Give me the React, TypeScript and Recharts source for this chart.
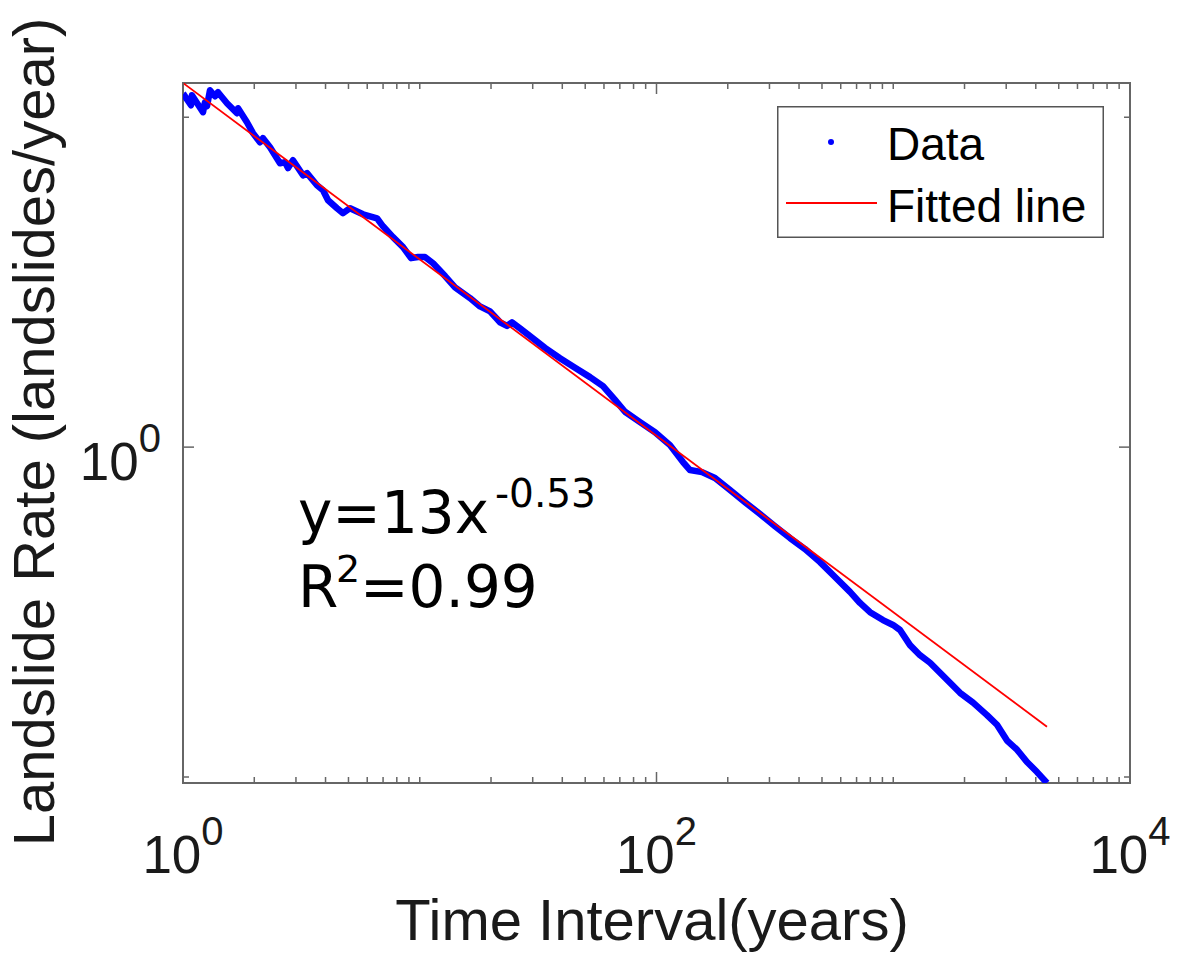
import React from 'react';
import { ComposedChart, Line, XAxis, YAxis, ReferenceArea, Legend } from 'recharts';

// values
const timeInterval = [
  1, 1.081, 1.091, 1.215, 1.238, 1.263, 1.3, 1.365, 1.405, 1.534, 1.691, 1.708, 1.863, 1.975, 2.114,
  2.177, 2.331, 2.569, 2.697, 2.777, 2.914, 3.213, 3.34, 3.681, 3.903, 4.098, 4.472, 4.741, 5.075,
  5.759, 6.598, 6.995, 7.709, 8.5, 9.19, 9.83, 10.52, 11.38, 12.79, 14.09, 16.3, 17.97, 19.81, 21.83,
  23.37, 24.52, 26.51, 29.22, 33.81, 39.12, 45.27, 52.38, 59.43, 66.8, 73.62, 85.2, 98.56, 114,
  129.4, 138.5, 155.7, 176.6, 204.4, 236.5, 273.6, 316.6, 366.4, 424, 490.6, 567.5, 656.7, 723.6,
  797.9, 905, 997.7, 1068, 1177, 1297, 1430, 1576, 1737, 1914, 2173, 2489, 2743, 3024, 3333, 3673,
  4049, 4461,
];
const landslideRate = [
  11.82, 10.87, 11.66, 10.36, 11.1, 10.8, 12.07, 11.58, 11.91, 11.03, 10.28, 10.65, 9.66, 8.95, 8.4,
  8.64, 8.11, 7.25, 7.31, 7.01, 7.41, 6.67, 6.77, 6.22, 6.01, 5.6, 5.3, 5.12, 5.3, 5.08, 4.94, 4.67,
  4.33, 4.04, 3.74, 3.77, 3.77, 3.61, 3.3, 3.05, 2.83, 2.67, 2.58, 2.39, 2.33, 2.39, 2.29, 2.17, 2.0,
  1.86, 1.74, 1.63, 1.53, 1.39, 1.28, 1.19, 1.11, 1.014, 0.901, 0.852, 0.84, 0.806, 0.741, 0.681,
  0.627, 0.576, 0.53, 0.491, 0.448, 0.404, 0.364, 0.337, 0.316, 0.299, 0.289, 0.279, 0.251, 0.234,
  0.222, 0.207, 0.193, 0.18, 0.168, 0.154, 0.144, 0.129, 0.121, 0.111, 0.1035, 0.0959,
];
const fitTime = [1, 4460];
const fitRate = [12.7, 0.142];

const xTicks = [
  1, 2, 3, 4, 5, 6, 7, 8, 9, 10, 20, 30, 40, 50, 60, 70, 80, 90, 100, 200, 300, 400, 500, 600, 700,
  800, 900, 1000, 2000, 3000, 4000, 5000, 6000, 7000, 8000, 9000, 10000,
];
const xLabelled = [1, 100, 10000];
const yTicks = [0.1, 1, 10];
const yLabelled = [1];

const X_DOMAIN = [1, 10000];
const Y_DOMAIN = [0.0959, 12.7];

const W = 1181;
const H = 964;
const PLOT_LEFT = 183;
const PLOT_RIGHT = 1130;
const PLOT_TOP = 83;
const PLOT_BOTTOM = 783;
const AXIS = '#666666';
const TEXT = '#1a1a1a';
const FONT = '"Liberation Sans", Arial, sans-serif';

const dataRows = timeInterval.map((x, i) => ({ x, y: landslideRate[i] }));
const fitRows = fitTime.map((x, i) => ({ x, y: fitRate[i] }));

const XTick = (props: any) => {
  const { x, payload } = props;
  const v = payload.value;
  const major = xLabelled.includes(v);
  const len = major ? 11 : 6;
  return (
    <g>
      <line x1={x} x2={x} y1={PLOT_BOTTOM} y2={PLOT_BOTTOM - len} stroke={AXIS} strokeWidth={1.5} />
      <line x1={x} x2={x} y1={PLOT_TOP} y2={PLOT_TOP + len} stroke={AXIS} strokeWidth={1.5} />
      {major && (
        <text x={x} y={873} textAnchor="middle" fontFamily={FONT} fontSize={53} fill={TEXT}>
          <tspan>10</tspan>
          <tspan dy={-28} fontSize={40}>{Math.round(Math.log10(v))}</tspan>
        </text>
      )}
    </g>
  );
};

const YTick = (props: any) => {
  const { y, payload } = props;
  const v = payload.value;
  const major = yLabelled.includes(v);
  const len = major ? 11 : 6;
  return (
    <g>
      <line x1={PLOT_LEFT} x2={PLOT_LEFT + len} y1={y} y2={y} stroke={AXIS} strokeWidth={1.5} />
      <line x1={PLOT_RIGHT - len} x2={PLOT_RIGHT} y1={y} y2={y} stroke={AXIS} strokeWidth={1.5} />
      {major && (
        <text x={161} y={y + 33} textAnchor="end" fontFamily={FONT} fontSize={53} fill={TEXT}>
          <tspan>10</tspan>
          <tspan dy={-28} fontSize={40}>{Math.round(Math.log10(v))}</tspan>
        </text>
      )}
    </g>
  );
};

const LegendBox = () => (
  <svg width={327} height={132} style={{ display: 'block' }}>
    <rect x={0.75} y={0.75} width={325.5} height={130.5} fill="#fff" stroke="#555" strokeWidth={1.5} />
    <circle cx={54} cy={36} r={3} fill="#0000ff" />
    <text x={110} y={54} fontFamily={FONT} fontSize={46} fill="#000">Data</text>
    <line x1={9} x2={100} y1={97} y2={97} stroke="#ff0000" strokeWidth={1.8} />
    <text x={110} y={116} fontFamily={FONT} fontSize={46} fill="#000">Fitted line</text>
  </svg>
);

export default function App() {
  return (
    <div style={{ position: 'absolute', left: 0, top: 0, width: W, height: H, background: '#fff' }}>
      <ComposedChart
        width={W}
        height={H}
        margin={{ top: PLOT_TOP, right: W - PLOT_RIGHT, left: PLOT_LEFT - 150, bottom: H - PLOT_BOTTOM - 100 }}
      >
        <XAxis
          dataKey="x"
          type="number"
          scale="log"
          domain={X_DOMAIN}
          ticks={xTicks}
          interval={0}
          allowDataOverflow
          height={100}
          axisLine={false}
          tickLine={false}
          tick={<XTick />}
          label={{
            content: () => (
              <text x={652} y={940} textAnchor="middle" fontFamily={FONT} fontSize={58} fill={TEXT}>
                Time Interval(years)
              </text>
            ),
          }}
        />
        <YAxis
          type="number"
          scale="log"
          domain={Y_DOMAIN}
          ticks={yTicks}
          interval={0}
          allowDataOverflow
          width={150}
          axisLine={false}
          tickLine={false}
          tick={<YTick />}
          label={{
            content: () => (
              <text
                transform="translate(54,432) rotate(-90)"
                textAnchor="middle"
                fontFamily={FONT}
                fontSize={58}
                fill={TEXT}
              >
                Landslide Rate (landslides/year)
              </text>
            ),
          }}
        />
        <Line
          data={dataRows}
          dataKey="y"
          name="Data"
          stroke="#0000ff"
          strokeWidth={6.5}
          strokeLinejoin="round"
          dot={false}
          isAnimationActive={false}
        />
        <Line
          data={fitRows}
          dataKey="y"
          name="Fitted line"
          stroke="#ff0000"
          strokeWidth={1.8}
          dot={false}
          isAnimationActive={false}
        />
        <ReferenceArea
          x1={X_DOMAIN[0]}
          x2={X_DOMAIN[1]}
          y1={Y_DOMAIN[0]}
          y2={Y_DOMAIN[1]}
          fill="none"
          stroke={AXIS}
          strokeWidth={2}
        />
        <Legend
          layout="horizontal"
          verticalAlign="middle"
          align="center"
          content={<LegendBox />}
          wrapperStyle={{ position: 'absolute', left: 777, top: 106, width: 327, height: 132 }}
        />
      </ComposedChart>
      {/* fit equation annotation */}
      <svg width={W} height={H} style={{ position: 'absolute', left: 0, top: 0, pointerEvents: 'none' }}>
        <g fontFamily='"DejaVu Sans", Verdana, sans-serif' fill="#000">
          <text x={298} y={533} fontSize={58}>
            y=13x
          </text>
          <text x={495} y={507} fontSize={39}>
            -0.53
          </text>
          <text x={298} y={607} fontSize={58}>
            R
          </text>
          <text x={336} y={582} fontSize={38}>
            2
          </text>
          <text x={360} y={607} fontSize={58}>
            =0.99
          </text>
        </g>
      </svg>
    </div>
  );
}
